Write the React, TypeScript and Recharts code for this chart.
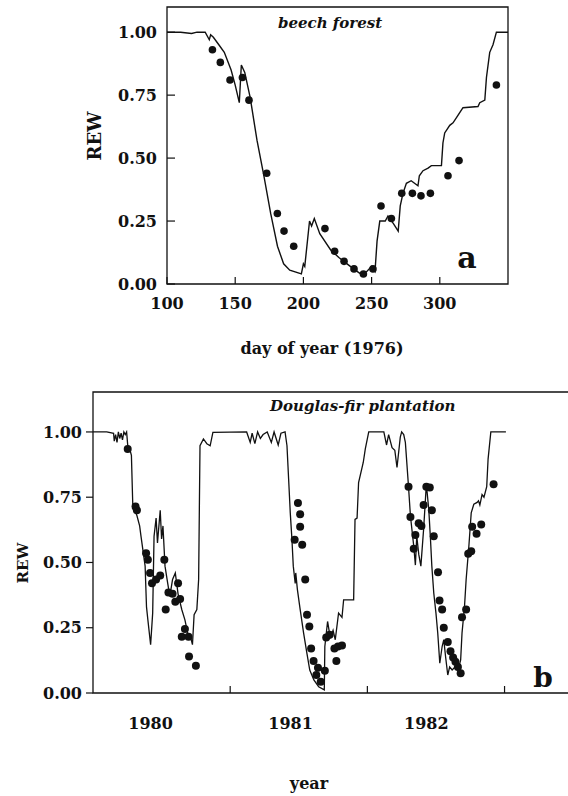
import React from 'react'
import {
  ComposedChart,
  Line,
  Scatter,
  XAxis,
  YAxis,
  ReferenceArea,
} from 'recharts'

// panel a: beech forest, 1976
const beechModelDay = [
  100, 110, 118, 122, 128, 131, 132, 134, 138, 142, 147, 150, 153, 154.5, 157, 161, 166, 171, 176, 181,
  185.5, 190, 198.5, 200, 201, 204.5, 206, 208, 212, 220, 226, 232, 238, 242, 246.5, 250, 252.5, 254, 256,
  260, 262, 266, 269.5, 271, 273, 275.5, 279, 284, 285, 287.7, 291.4, 293.8, 301.2, 302.3, 303.6, 307.3,
  309.7, 313.3, 317, 328, 329.3, 333, 334.2, 336.6, 339, 341.5, 350,
]
const beechModelRew = [
  1.0, 1.0, 0.995, 1.0, 1.0, 0.97, 0.99, 0.98, 0.95, 0.92, 0.85, 0.79, 0.72, 0.87, 0.84, 0.74, 0.57, 0.43,
  0.28, 0.15, 0.08, 0.055, 0.04, 0.08, 0.07, 0.25, 0.23, 0.26, 0.2, 0.135, 0.105, 0.08, 0.055, 0.04, 0.05,
  0.07, 0.05, 0.17, 0.25, 0.25, 0.27, 0.24, 0.21, 0.31, 0.36, 0.4, 0.41, 0.39, 0.43, 0.45, 0.46, 0.47, 0.47,
  0.56, 0.6, 0.63, 0.64, 0.67, 0.7, 0.705, 0.72, 0.73, 0.82, 0.92, 0.95, 1.0, 1.0,
]
const beechObsDay = [
  133.3, 139.1, 146.2, 155.3, 160.1, 173.1, 180.9, 185.8, 192.9, 215.8, 222.9, 229.8, 237.1, 244, 251,
  256.9, 264.5, 272.1, 279.9, 286.2, 293.1, 306, 314.1, 341.5,
]
const beechObsRew = [
  0.93, 0.88, 0.81, 0.82, 0.73, 0.44, 0.28, 0.21, 0.15, 0.22, 0.13, 0.09, 0.06, 0.04, 0.06, 0.31, 0.26,
  0.36, 0.36, 0.35, 0.36, 0.43, 0.49, 0.79,
]
const dayTicks = [100, 150, 200, 250, 300]
const rewTicks = [0, 0.25, 0.5, 0.75, 1]

// panel b: Douglas-fir plantation, 1980-1982
const firModelYear = [
  1980.0, 1980.1, 1980.15, 1980.155, 1980.165, 1980.175, 1980.185, 1980.195, 1980.205, 1980.215, 1980.225,
  1980.235, 1980.245, 1980.253, 1980.27, 1980.28, 1980.29, 1980.32, 1980.34, 1980.35, 1980.38, 1980.39,
  1980.4, 1980.42, 1980.435, 1980.445, 1980.46, 1980.47, 1980.49, 1980.5, 1980.51, 1980.525, 1980.54,
  1980.56, 1980.58, 1980.6, 1980.61, 1980.62, 1980.647, 1980.67, 1980.69, 1980.71, 1980.725, 1980.737,
  1980.757, 1980.77, 1980.78, 1980.805, 1980.83, 1980.854, 1980.874, 1981.12, 1981.146, 1981.16, 1981.18,
  1981.2, 1981.22, 1981.24, 1981.27, 1981.3, 1981.32, 1981.35, 1981.37, 1981.4, 1981.414, 1981.426,
  1981.438, 1981.45, 1981.46, 1981.474, 1981.478, 1981.49, 1981.51, 1981.535, 1981.56, 1981.58, 1981.61,
  1981.645, 1981.686, 1981.69, 1981.71, 1981.73, 1981.75, 1981.766, 1981.79, 1981.815, 1981.827, 1981.9,
  1981.91, 1981.925, 1981.936, 1981.97, 1981.985, 1982.01, 1982.12, 1982.14, 1982.155, 1982.18, 1982.2,
  1982.216, 1982.24, 1982.25, 1982.265, 1982.277, 1982.3, 1982.314, 1982.338, 1982.35, 1982.36, 1982.375,
  1982.39, 1982.41, 1982.43, 1982.448, 1982.46, 1982.47, 1982.484, 1982.5, 1982.513, 1982.528, 1982.545,
  1982.557, 1982.57, 1982.586, 1982.6, 1982.618, 1982.64, 1982.66, 1982.68, 1982.69, 1982.708, 1982.72,
  1982.74, 1982.757, 1982.776, 1982.8, 1982.81, 1982.82, 1982.836, 1982.85, 1982.87, 1982.88, 1982.9,
  1983.01,
]
const firModelRew = [
  1.0, 1.0, 0.995, 0.965, 0.99, 0.96, 1.0, 0.975, 0.995, 0.97, 1.0, 0.99, 1.0, 0.95, 0.93, 0.91, 0.72, 0.68,
  0.64, 0.6, 0.486, 0.33, 0.28, 0.185, 0.306, 0.6, 0.67, 0.575, 0.7, 0.59, 0.64, 0.486, 0.435, 0.37, 0.435,
  0.46, 0.42, 0.38, 0.32, 0.28, 0.23, 0.217, 0.185, 0.3, 0.32, 0.435, 0.947, 0.973, 0.955, 0.947, 0.998, 1.0,
  0.96, 0.995, 0.955, 1.0, 0.975, 0.99, 1.0, 0.96, 1.0, 0.95, 0.995, 1.0, 0.947, 0.82, 0.69, 0.59, 0.486,
  0.42, 0.46, 0.396, 0.32, 0.23, 0.15, 0.088, 0.05, 0.024, 0.012, 0.178, 0.274, 0.21, 0.24, 0.204, 0.306,
  0.29, 0.357, 0.357, 0.665, 0.67, 0.806, 0.883, 0.935, 1.0, 1.0, 0.95, 0.99, 0.94, 0.93, 0.864, 0.98, 1.0,
  0.99, 0.96, 0.79, 0.678, 0.563, 0.49, 0.6, 0.53, 0.486, 0.627, 0.8, 0.7, 0.59, 0.486, 0.383, 0.306, 0.23,
  0.114, 0.178, 0.204, 0.14, 0.069, 0.1, 0.088, 0.1, 0.085, 0.127, 0.23, 0.33, 0.435, 0.563, 0.69, 0.723,
  0.73, 0.736, 0.72, 0.76, 0.75, 0.79, 0.896, 1.0, 1.0,
]
const firObsYear = [
  1980.253, 1980.31, 1980.32, 1980.387, 1980.4, 1980.416, 1980.43, 1980.46, 1980.49, 1980.52, 1980.53,
  1980.55, 1980.58, 1980.6, 1980.62, 1980.635, 1980.647, 1980.67, 1980.696, 1980.7, 1980.75, 1981.47,
  1981.494, 1981.51, 1981.51, 1981.525, 1981.547, 1981.56, 1981.577, 1981.59, 1981.608, 1981.628, 1981.64,
  1981.66, 1981.69, 1981.7, 1981.725, 1981.76, 1981.774, 1981.786, 1981.815, 1982.3, 1982.314, 1982.338,
  1982.35, 1982.374, 1982.394, 1982.41, 1982.43, 1982.455, 1982.47, 1982.484, 1982.515, 1982.526, 1982.545,
  1982.557, 1982.586, 1982.606, 1982.625, 1982.642, 1982.66, 1982.68, 1982.69, 1982.72, 1982.735, 1982.757,
  1982.764, 1982.796, 1982.83, 1982.92,
]
const firObsRew = [
  0.935, 0.714, 0.7, 0.535, 0.51, 0.46, 0.42, 0.435, 0.45, 0.51, 0.32, 0.385, 0.38, 0.35, 0.42, 0.36, 0.215,
  0.245, 0.215, 0.14, 0.104, 0.587, 0.728, 0.685, 0.637, 0.568, 0.435, 0.3, 0.255, 0.17, 0.123, 0.069,
  0.097, 0.043, 0.085, 0.213, 0.223, 0.17, 0.123, 0.178, 0.182, 0.79, 0.674, 0.553, 0.605, 0.65, 0.64, 0.72,
  0.79, 0.787, 0.7, 0.6, 0.463, 0.354, 0.32, 0.25, 0.195, 0.16, 0.136, 0.12, 0.1, 0.076, 0.29, 0.32, 0.533,
  0.543, 0.637, 0.61, 0.645, 0.8,
]
const yearBounds = [1981, 1982, 1983]
const yearLabelAt = [1980.42, 1981.44, 1982.43]

const zip = (xs: number[], ys: number[]) => xs.map((x, i) => ({ x, rew: ys[i] }))

const FONT = '"DejaVu Serif", serif'
const textStyle = { fontFamily: FONT, fontWeight: 700, fontSize: 16, fill: '#111' }

const dot = (r: number) => (p: any) => <circle cx={p.cx} cy={p.cy} r={r} fill="#111" />

// y ticks: tickSize 0, so the axis line sits at x + margin
const yTick = (margin: number, len: number) => (p: any) => {
  const ax = p.x + margin
  return (
    <g>
      <line x1={ax} x2={ax + len} y1={p.y} y2={p.y} stroke="#111" strokeWidth={1.2} />
      <text x={p.x} y={p.y} dy="0.36em" textAnchor="end" style={textStyle}>
        {Number(p.payload.value).toFixed(2)}
      </text>
    </g>
  )
}

const dayTick = (margin: number) => (p: any) => {
  const ay = p.y - margin
  return (
    <g>
      <line x1={p.x} x2={p.x} y1={ay} y2={ay - 7} stroke="#111" strokeWidth={1.2} />
      <text x={p.x} y={p.y} dy="0.71em" textAnchor="middle" style={textStyle}>
        {p.payload.value}
      </text>
    </g>
  )
}

const yearTick = (margin: number) => (p: any) => {
  const v = p.payload.value
  if (Number.isInteger(v)) {
    const ay = p.y - margin
    return <line x1={p.x} x2={p.x} y1={ay} y2={ay - 7} stroke="#111" strokeWidth={1.2} />
  }
  return (
    <text x={p.x} y={p.y} dy="0.71em" textAnchor="middle" style={textStyle}>
      {Math.floor(v)}
    </text>
  )
}

export default function App() {
  const beechModel = zip(beechModelDay, beechModelRew)
  const beechObs = zip(beechObsDay, beechObsRew)
  const firModel = zip(firModelYear, firModelRew)
  const firObs = zip(firObsYear, firObsRew)

  return (
    <div
      style={{
        position: 'absolute',
        left: 0,
        top: 0,
        width: 568,
        height: 796,
        overflow: 'hidden',
        background: '#fff',
      }}
    >
      <div style={{ position: 'absolute', left: 0, top: 0 }}>
        <ComposedChart width={568} height={380} margin={{ top: 7, right: 60, bottom: 0, left: 0 }}>
          <XAxis
            dataKey="x"
            type="number"
            domain={[100, 350]}
            ticks={dayTicks}
            interval={0}
            height={96}
            axisLine={false}
            tickSize={0}
            tickMargin={14}
            tick={dayTick(14)}
          />
          <YAxis
            type="number"
            domain={[0, 1.1]}
            ticks={rewTicks}
            interval={0}
            width={167}
            axisLine={false}
            tickSize={0}
            tickMargin={10}
            tick={yTick(10, 8)}
          />
          <ReferenceArea x1={100} x2={350} y1={0} y2={1.1} fill="none" stroke="#111" strokeWidth={1.3} />
          <Line
            data={beechModel}
            dataKey="rew"
            type="linear"
            stroke="#111"
            strokeWidth={1.4}
            dot={false}
            isAnimationActive={false}
          />
          <Scatter data={beechObs} dataKey="rew" shape={dot(3.8)} isAnimationActive={false} />
        </ComposedChart>
      </div>

      <div style={{ position: 'absolute', left: 0, top: 380 }}>
        <ComposedChart width={620} height={416} margin={{ top: 12, right: 40, bottom: 0, left: 0 }}>
          <XAxis
            dataKey="x"
            type="number"
            domain={[1980, 1983.55]}
            ticks={[...yearBounds, ...yearLabelAt].sort((a, b) => a - b)}
            interval={0}
            height={103}
            axisLine={false}
            tickSize={0}
            tickMargin={25}
            tick={yearTick(25)}
          />
          <YAxis
            type="number"
            domain={[0, 1.153]}
            ticks={rewTicks}
            interval={0}
            width={93}
            axisLine={false}
            tickSize={0}
            tickMargin={11}
            tick={yTick(11, -7)}
          />
          <ReferenceArea x1={1980} x2={1983.55} y1={0} y2={1.153} fill="none" stroke="#111" strokeWidth={1.3} />
          <Line
            data={firModel}
            dataKey="rew"
            type="linear"
            stroke="#111"
            strokeWidth={1.3}
            dot={false}
            isAnimationActive={false}
          />
          <Scatter data={firObs} dataKey="rew" shape={dot(4)} isAnimationActive={false} />
        </ComposedChart>
      </div>

      <svg
        width={568}
        height={796}
        style={{ position: 'absolute', left: 0, top: 0, pointerEvents: 'none' }}
      >
        <text x={278} y={28} style={{ ...textStyle, fontSize: 15, fontStyle: 'italic' }}>
          beech forest
        </text>
        <text x={467} y={268} textAnchor="middle" style={{ ...textStyle, fontSize: 30 }}>
          a
        </text>
        <text x={322} y={354} textAnchor="middle" style={textStyle}>
          day of year  (1976)
        </text>
        <text
          x={94}
          y={136}
          textAnchor="middle"
          dominantBaseline="central"
          transform="rotate(-90 94 136)"
          style={{ ...textStyle, fontSize: 18 }}
        >
          REW
        </text>

        <text x={270} y={411} style={{ ...textStyle, fontSize: 15, fontStyle: 'italic' }}>
          Douglas-fir plantation
        </text>
        <text x={543} y={687} textAnchor="middle" style={{ ...textStyle, fontSize: 28 }}>
          b
        </text>
        <text x={309} y={789} textAnchor="middle" style={textStyle}>
          year
        </text>
        <text
          x={23}
          y={563}
          textAnchor="middle"
          dominantBaseline="central"
          transform="rotate(-90 23 563)"
          style={{ ...textStyle, fontSize: 15 }}
        >
          REW
        </text>
      </svg>
    </div>
  )
}
